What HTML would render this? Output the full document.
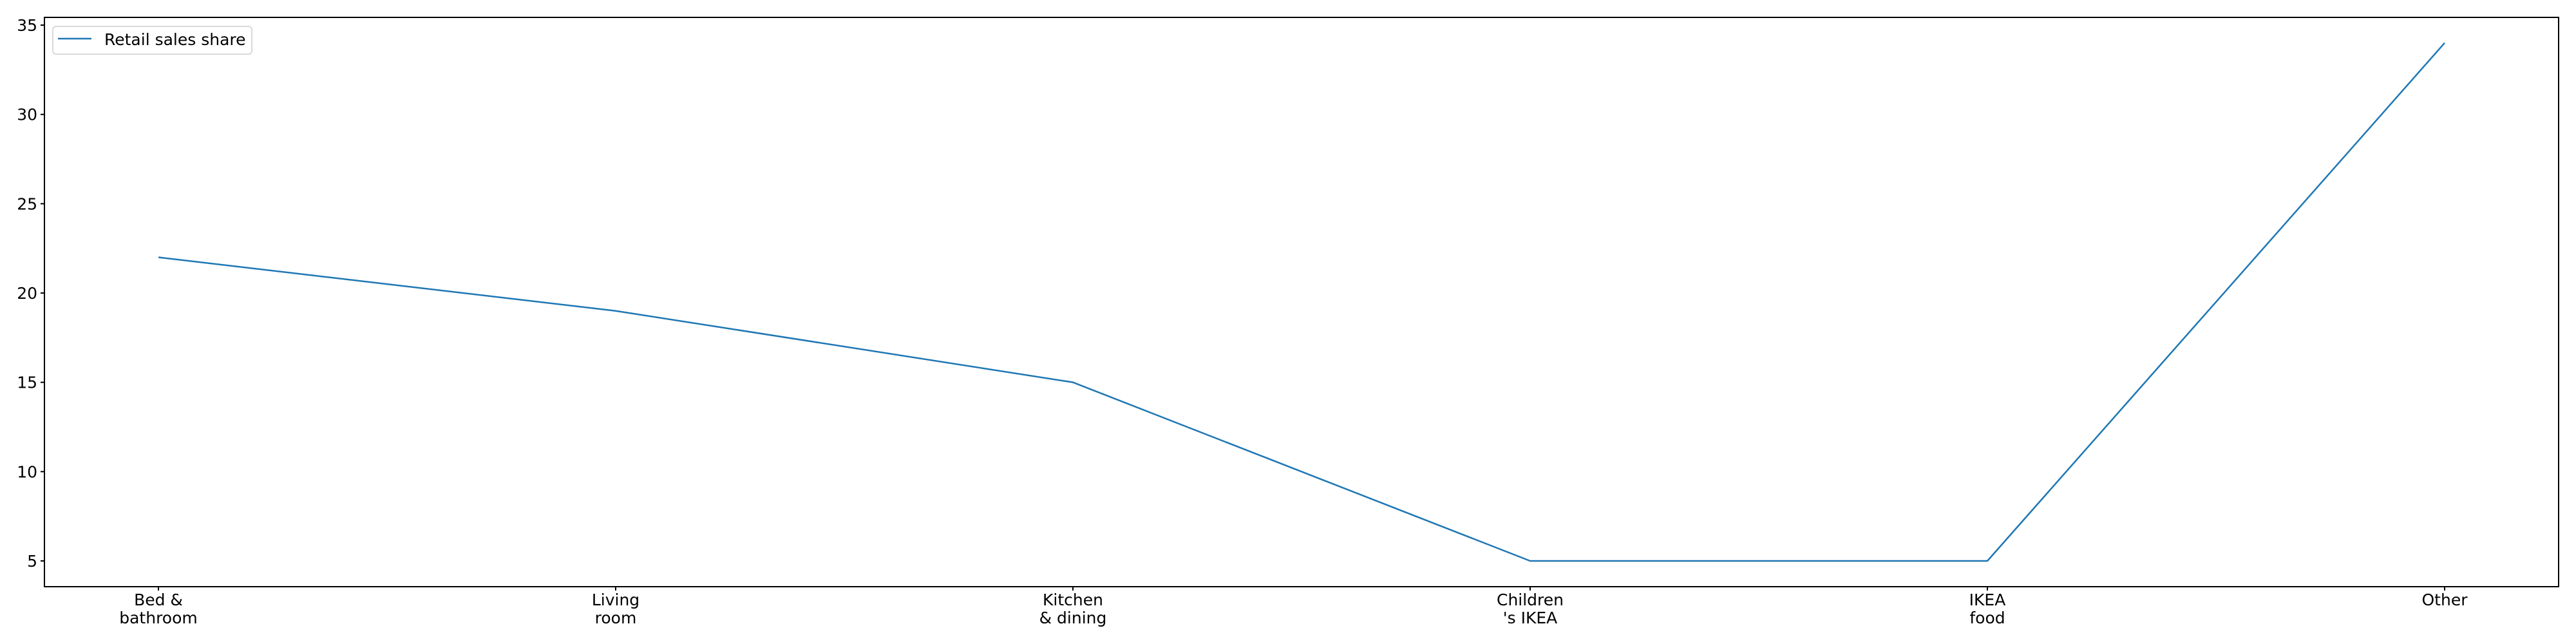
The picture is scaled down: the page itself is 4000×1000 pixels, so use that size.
<!DOCTYPE html>
<html><head><meta charset="utf-8"><style>
html,body{margin:0;padding:0;background:#fff;}
svg{display:block;}
text{font-family:"DejaVu Sans","Liberation Sans",sans-serif;font-size:25px;fill:#000;}
</style></head><body>
<svg id="chart" width="4000" height="1000" xmlns="http://www.w3.org/2000/svg"></svg>
<script>
const categories = [["Bed &","bathroom"],["Living","room"],["Kitchen","& dining"],["Children","'s IKEA"],["IKEA","food"],["Other"]];
const values = [22, 19, 15, 5, 5, 34];
const yTicks = [5, 10, 15, 20, 25, 30, 35];
const seriesName = "Retail sales share";

const L=69, T=27, R=3973, B=911;
const NS="http://www.w3.org/2000/svg";
const svg=document.getElementById('chart');
function xScale(i){ return 246 + i*(3796-246)/(categories.length-1); }
function yScale(v){ return 871 - (v-5)*(871-39)/30; }
function mk(tag, attrs, parent){ const e=document.createElementNS(NS,tag); for(const k in attrs) e.setAttribute(k,attrs[k]); (parent||svg).appendChild(e); return e; }

const frame=mk('rect',{x:L,y:T,width:R-L,height:B-T,fill:'none',stroke:'#000','stroke-width':2});



yTicks.forEach(v=>{
  const y=yScale(v);
  const t=mk('line',{x1:L-6,x2:L,y1:y,y2:y,stroke:'#000','stroke-width':2});
  
  
  const lb=mk('text',{x:L-11,y:y+9,'text-anchor':'end'});
  lb.textContent=v;
  
  
});

categories.forEach((c,i)=>{
  const x=xScale(i);
  const t=mk('line',{x1:x,x2:x,y1:B,y2:B+6,stroke:'#000','stroke-width':2});
  
  
  c.forEach((s,j)=>{
    const lb=mk('text',{x:x,y:940+j*28,'text-anchor':'middle'});
    lb.textContent=s;
    
    
  });
});

const pts=values.map((v,i)=>xScale(i)+','+yScale(v)).join(' ');
const line=mk('polyline',{points:pts,fill:'none',stroke:'#1f77b4','stroke-width':2.5,'stroke-linejoin':'round'});



const lg=mk('g',{});


mk('rect',{x:82,y:41,width:309,height:43,rx:5,fill:'#fff',stroke:'#d9d9d9','stroke-width':2},lg);
mk('line',{x1:90,x2:142,y1:60,y2:60,stroke:'#1f77b4','stroke-width':2.5},lg);
const lt=mk('text',{x:162,y:70},lg);
lt.textContent=seriesName;


</script>
</body></html>
